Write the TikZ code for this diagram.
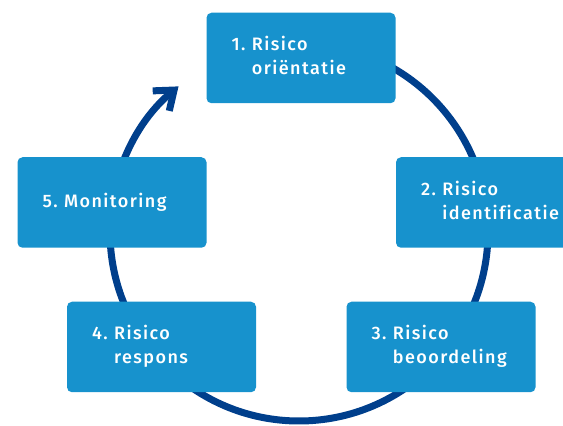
\documentclass[tikz,border=0pt]{standalone}
\usepackage{fontspec}
\setmainfont{Fira Sans}[UprightFont={* Medium}, LetterSpace=8, Ligatures=NoCommon]
\usetikzlibrary{arrows.meta}
\definecolor{boxblue}{HTML}{1792CD}
\definecolor{ringblue}{HTML}{003F8C}
\newcommand\stagetext[3]{\begin{tabular}{@{}l@{\hspace{0.36em}}l@{}}#1&#2\\&#3\end{tabular}}
\begin{document}
\begin{tikzpicture}[x=1pt,y=1pt,
  stagebox/.style={rectangle, rounded corners=5pt, fill=boxblue, text=white,
    minimum width=189pt, minimum height=90.5pt, inner xsep=25pt, inner ysep=0pt,
    text width=139pt, align=left, font=\fontsize{18}{24}\selectfont},
  ring/.style={draw=ringblue, line width=7pt,
    -{Straight Barb[length=17pt, width=26pt]}}]
\useasboundingbox (0,0) rectangle (563,426);
\clip (0,0) rectangle (563,426);
\coordinate (c) at (299,194);
\draw[ring] (c) ++(90:189) arc[start angle=90, end angle=-230.4, radius=189];
\node[stagebox] (s1) at (301,368) {\stagetext{1.}{Risico}{oriëntatie}};
\node[stagebox] (s2) at (490.5,223.5) {\stagetext{2.}{Risico}{identificatie}};
\node[stagebox] (s3) at (441,79) {\stagetext{3.}{Risico}{beoordeling}};
\node[stagebox] (s4) at (161.5,79) {\stagetext{4.}{Risico}{respons}};
\node[stagebox] (s5) at (112,223.5) {5.\hspace{0.36em}Monitoring};
\end{tikzpicture}
\end{document}
